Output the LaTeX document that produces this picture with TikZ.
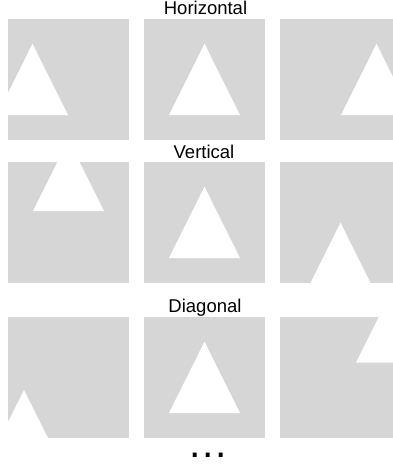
\documentclass[tikz,border=0pt]{standalone}
\usepackage{fontspec}
\setmainfont{Liberation Sans}
\definecolor{panelgray}{RGB}{214,214,214}
\tikzset{
  panel/.style={fill=panelgray},
  tri/.style={fill=white},
  lbl/.style={anchor=base, inner sep=0pt, font=\fontsize{18.5}{22}\selectfont},
  dotslbl/.style={anchor=base, inner sep=0pt, font=\fontsize{41}{45}\selectfont}
}
% #1,#2: panel origin; #3,#4: triangle apex relative to the panel
\newcommand{\drawpanel}[4]{%
  \begin{scope}[shift={(#1,#2)}]
    \clip (0,0) rectangle (121,121);
    \fill[panel] (0,0) rectangle (121,121);
    \fill[tri] (#3,#4) -- ++(35.5,71.3) -- ++(-71,0) -- cycle;
  \end{scope}}
\begin{document}
\begin{tikzpicture}[x=1pt,y=-1pt]
  \useasboundingbox (0,0) rectangle (393,467);
  \clip (0,0) rectangle (393,467);
  % labels
  \node[lbl] (hlabel) at (205.5,14) {Horizontal};
  \node[lbl] (vlabel) at (204,158.3) {Vertical};
  \node[lbl] (dlabel) at (205,312.3) {Diagonal};
  % row 1: horizontal shift
  \drawpanel{8}{19}{24.5}{24.7}
  \drawpanel{144}{19}{60.5}{24.7}
  \drawpanel{280}{19}{96.5}{24.7}
  % row 2: vertical shift
  \drawpanel{8}{162}{60.5}{-22.3}
  \drawpanel{144}{162}{60.5}{24.7}
  \drawpanel{280}{162}{60.5}{60.7}
  % row 3: diagonal shift
  \drawpanel{8}{316.7}{16}{73.3}
  \drawpanel{144}{316.7}{60.5}{25}
  \drawpanel{280}{316.7}{111.5}{-25.3}
  % ellipsis
  \node[dotslbl] (more) at (208,457.3) {.\kern1.4pt.\kern1.4pt.};
\end{tikzpicture}
\end{document}
